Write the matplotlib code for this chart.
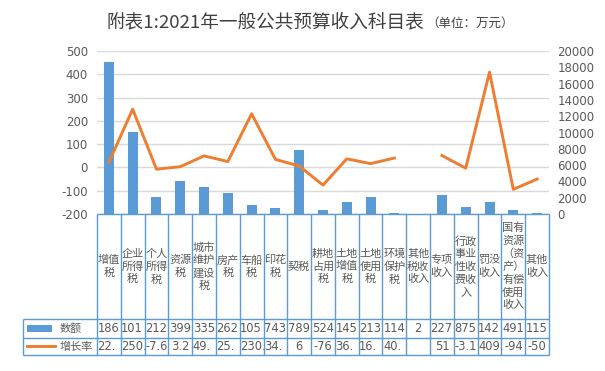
import numpy as np
import matplotlib.pyplot as plt
from matplotlib.patches import Rectangle

plt.rcParams['font.family'] = ['DejaVu Sans', 'Noto Sans CJK SC']
plt.rcParams['axes.unicode_minus'] = False
CJK = ['Noto Sans CJK SC', 'DejaVu Sans']

categories = ['增值税', '企业所得税', '个人所得税', '资源税', '城市维护建设税', '房产税',
              '车船税', '印花税', '契税', '耕地占用税', '土地增值税', '土地使用税',
              '环境保护税', '其他税收收入', '专项收入', '行政事业性收费收入', '罚没收入',
              '国有资源（资产）有偿使用收入', '其他收入']
amounts = [18620, 10100, 2120, 3990, 3350, 2620, 1050, 743, 7890, 524,
           1450, 2130, 114, 2, 2270, 875, 1420, 491, 115]
growth = [22.2, 250.1, -7.6, 3.2, 49.5, 25.3, 230.4, 34.6, 6, -76,
          36.8, 16.4, 40.3, np.nan, 51, -3.1, 409.2, -94, -50]
series_names = ['数额', '增长率']

BLUE = '#5B9BD5'
ORANGE = '#ED7D31'
GRID = '#D9D9D9'
TXT = '#595959'
BORDER = '#5B9BD5'

W, H = 605, 371
fig = plt.figure(figsize=(W / 100, H / 100), dpi=100)

# plot area in pixels
px_l, px_r, px_t, px_b = 97, 549, 51, 214
n = len(categories)
x = np.arange(n)

ax = fig.add_axes([px_l / W, 1 - px_b / H, (px_r - px_l) / W, (px_b - px_t) / H])
ax.bar(x, amounts, width=0.42, color=BLUE, zorder=2)
ax.set_xlim(-0.5, n - 0.5)
ax.set_ylim(0, 20000)
ax.set_yticks(np.arange(0, 20001, 2000))
ax.set_xticks([])
for s in ax.spines.values():
    s.set_visible(False)

ax2 = ax.twinx()
ax2.plot(x, growth, color=ORANGE, lw=2.1, solid_joinstyle='round', zorder=3)
ax2.set_ylim(-200, 500)
ax2.set_yticks(np.arange(-200, 501, 100))
for s in ax2.spines.values():
    s.set_visible(False)

# bars axis labels on the right, line axis labels on the left
ax.yaxis.tick_right()
ax2.yaxis.tick_left()
ax.tick_params(axis='y', length=0, pad=6, labelsize=8.5, labelcolor=TXT)
ax2.tick_params(axis='y', length=0, pad=6.5, labelsize=8.5, labelcolor=TXT)

# gridlines follow the left axis, drawn behind the bars
for v in np.arange(-200, 501, 100):
    ax.axhline((v + 200) / 700 * 20000, color=GRID, lw=1, zorder=0)

# data table below the chart
tb_l, tb_b = 23, 355
row1, row2 = 319, 338
cw = (px_r - px_l) / n
xl = -0.5 - (px_l - tb_l) / cw
axt = fig.add_axes([tb_l / W, 1 - tb_b / H, (px_r - tb_l) / W, (tb_b - px_b) / H])
axt.set_xlim(xl, n - 0.5)
axt.set_ylim(tb_b, px_b)
axt.axis('off')


def dx(p):
    return (p - px_l) / cw - 0.5


lk = dict(color=BORDER, lw=1, solid_capstyle='butt', clip_on=False)
axt.plot([-0.5, n - 0.5], [px_b, px_b], **lk)
for i in range(n + 1):
    axt.plot([i - 0.5, i - 0.5], [px_b, tb_b], **lk)
axt.plot([xl, xl], [row1, tb_b], **lk)
for yy in (row1, row2, tb_b):
    axt.plot([xl, n - 0.5], [yy, yy], **lk)

for i, c in enumerate(categories):
    lines = [c[k:k + 2] for k in range(0, len(c), 2)]
    axt.text(i, (px_b + row1) / 2, '\n'.join(lines), ha='center', va='center',
             fontsize=8, linespacing=1.3, color=TXT, family=CJK)

# legend keys in the header column
axt.add_patch(Rectangle((dx(27), 325), dx(52) - dx(27), 6.5, color=BLUE, lw=0))
axt.plot([dx(27), dx(55)], [346, 346], color=ORANGE, lw=2.1)
axt.text(dx(60), (row1 + row2) / 2, series_names[0], ha='left', va='center',
         fontsize=8, color=TXT, family=CJK)
axt.text(dx(60), (row2 + tb_b) / 2, series_names[1], ha='left', va='center',
         fontsize=8, color=TXT, family=CJK)

fig.canvas.draw()
renderer = fig.canvas.get_renderer()


def text_width(s):
    t = axt.text(0, 0, s, fontsize=8.3)
    w = t.get_window_extent(renderer).width
    t.remove()
    return w


def cell_text(i, y0, y1, s):
    cell_w = cw
    full = s
    # cut characters that do not fit (a trailing dot may hang over the border)
    while s and text_width(s.rstrip('.')) > cell_w - 1:
        s = s[:-1]
    if s != full:
        axt.text(i - 0.5 + 0.02, (y0 + y1) / 2, s, ha='left', va='center',
                 fontsize=8.3, color=TXT)
    else:
        axt.text(i, (y0 + y1) / 2, s, ha='center', va='center', fontsize=8.3, color=TXT)


for i in range(n):
    cell_text(i, row1, row2, '{:g}'.format(amounts[i]))
    g = growth[i]
    cell_text(i, row2, tb_b, '' if np.isnan(g) else '{:g}'.format(g))

# title
fig.text(424 / W, 1 - 27 / H, '附表1:2021年一般公共预算收入科目表', ha='right', va='baseline',
         fontsize=13.4, color='#404040', family=CJK)
fig.text(426 / W, 1 - 27 / H, '（单位：万元）', ha='left', va='baseline',
         fontsize=9, color='#404040', family=CJK)

fig.savefig('out.png', dpi=100)
